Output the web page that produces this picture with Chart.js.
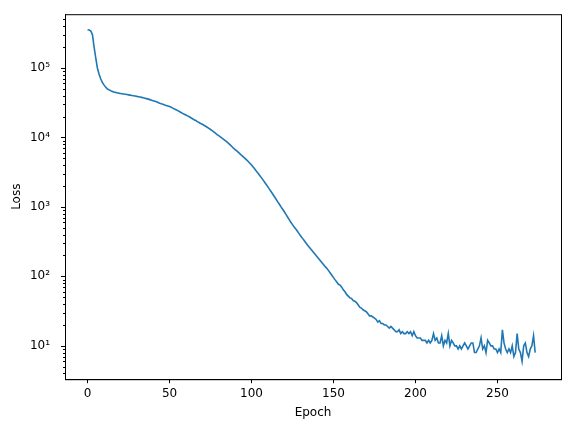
<!DOCTYPE html>
<html><head><meta charset="utf-8">
<script src="https://cdn.jsdelivr.net/npm/chart.js@4"></script>
<style>html,body{margin:0;padding:0;background:#fff}#w{width:570px;height:432px}</style>
</head><body><div id="w"><canvas id="c"></canvas></div>
<script>
const lossValues = [
355000,352000,340000,300000,200000,140000,100000,82000,70000,62000,
57000,53000,50000,48500,47200,46000,45200,44500,43900,43400,
43000,42600,42200,41800,41400,41000,40600,40200,39800,39400,
39000,38600,38200,37700,37200,36700,36200,35600,35000,34400,
33800,33200,32500,31800,31100,30500,30000,29400,28800,28300,
27800,27100,26400,25700,25000,24300,23600,22900,22200,21600,
21000,20400,19800,19200,18600,18000,17500,16900,16400,15900,
15500,15000,14500,14000,13500,13000,12500,12000,11500,11000,
10600,10200,9800,9400,9000,8600,8200,7800,7400,7000,
6700,6400,6100,5800,5500,5250,5000,4750,4500,4250,
4000,3750,3500,3270,3050,2840,2640,2450,2270,2100,
1940,1790,1650,1520,1400,1290,1180,1090,1000,925,
850,780,715,655,600,555,515,480,445,412,
382,355,330,307,286,267,250,234,219,205,
192,180,168,157,147,138,130,121,112,104,
96,89,83,77,75,70,64,60,55,52,
49,48,45,44,42,39,36,35,33,32,
31,29,27,27,26,25,24,22,23,21,
21,20,20,19,18,19,18,17,16,16,
17,15,16,15,15,16,15,16,14,16,
14,13,13,13,12,12,12,11,12,11,
12,15,12,13,11,11,14,10,12,11,
15,10,12,11,10,10,9,10,9,10,
11,10,9,10,11,11,8,8,9,10,
13,9,10,8,12,11,10,10,9,9,
8,9,8,17,11,9,8,9,8,10,
7,8,15,9,8,6,10,11,8,7,
9,10,14,8
];
const epochs = lossValues.map((_, i) => i);
const xTicks = [0, 50, 100, 150, 200, 250];
const yMin = 3.31, yMax = 594000;

const font = {family: 'DejaVu Sans', size: 12};
new Chart(document.getElementById('c'), {
  type: 'line',
  data: {labels: epochs, datasets: [{data: lossValues.map((v,i)=>({x:epochs[i],y:v})), borderColor: '#1f77b4', borderWidth: 1.6, pointRadius: 0, tension: 0, fill:false}]},
  options: {
    responsive: true, maintainAspectRatio: false, animation: false,
    layout: {padding: {left: 10, right: 9, top: 0, bottom: 8}},
    plugins: {legend: {display: false}, tooltip: {enabled: false}},
    scales: {
      x: {type: 'linear', min: -13.75, max: 288.75,
        afterBuildTicks: a => { a.ticks = xTicks.map(v => ({value: v})); },
        grid: {display: true, drawOnChartArea: false, tickLength: 4, color: '#000'},
        border: {color: '#000', width: 1},
        ticks: {color: '#000', font, padding: 3, maxRotation: 0},
        title: {display: true, text: 'Epoch', color: '#000', font, padding: {top: 2, bottom: 4}}},
      y: {type: 'logarithmic', min: yMin, max: yMax,
        afterBuildTicks: a => { const t=[]; for (let e=0;e<=5;e++) for (let m=1;m<10;m++){const v=m*Math.pow(10,e); if(v>=yMin&&v<=yMax) t.push({value:v});} a.ticks=t; },
        afterFit: a => { a.width = 55; },
        grid: {display: false},
        border: {color: '#000', width: 1},
        ticks: {color: '#000', font, padding: 7, autoSkip: false,
          callback: v => { const l = Math.log10(v); return Math.abs(l-Math.round(l))<1e-9 ? '10' + ['⁰','¹','²','³','⁴','⁵'][Math.round(l)] : ''; }},
        title: {display: true, text: 'Loss', color: '#000', font, padding: {top: 0, bottom: 4}}}
    }
  },
  plugins: [{id:'frame', afterDraw(ch){const {ctx, chartArea:a}=ch; const ys=ch.scales.y; ctx.save(); ctx.strokeStyle='#000'; ctx.lineWidth=1; ctx.strokeRect(a.left+0.5,a.top+0.5,a.right-a.left,a.bottom-a.top);
    ys.ticks.forEach(t=>{const py=Math.round(ys.getPixelForValue(t.value))+0.5; const l=Math.log10(t.value); const maj=Math.abs(l-Math.round(l))<1e-9; ctx.beginPath(); ctx.moveTo(a.left, py); ctx.lineTo(a.left-(maj?4:2), py); ctx.stroke();});
    ctx.restore();}}]
});
</script></body></html>
